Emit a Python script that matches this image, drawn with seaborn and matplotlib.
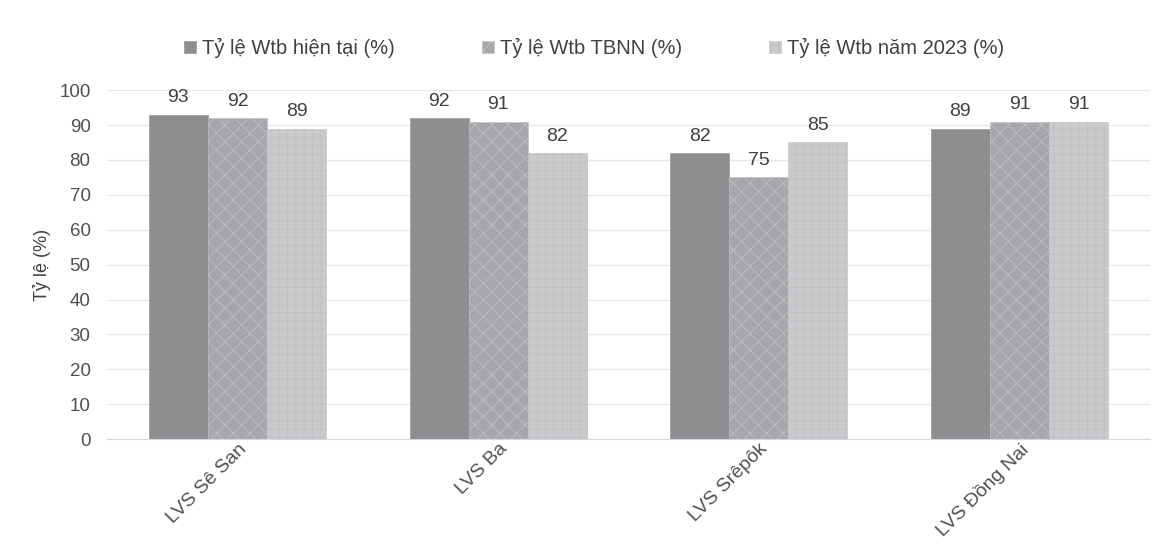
import pandas as pd
import matplotlib.pyplot as plt
import seaborn as sns

basins = ['LVS Sê San', 'LVS Ba', 'LVS Srêpôk', 'LVS Đồng Nai']
series = ['Tỷ lệ Wtb hiện tại (%)', 'Tỷ lệ Wtb TBNN (%)', 'Tỷ lệ Wtb năm 2023 (%)']
current = [93, 92, 82, 89]
avg_years = [92, 91, 75, 91]
year_2023 = [89, 82, 85, 91]

colors = ['#8e8e90', '#a7a7ab', '#cacacd']
hatches = ['', 'xx', '++']

df = pd.DataFrame({
    'Basin': basins * 3,
    'Series': [series[0]] * 4 + [series[1]] * 4 + [series[2]] * 4,
    'Value': current + avg_years + year_2023,
})

sns.set_style("white")
plt.rcParams['font.family'] = ['Liberation Sans', 'DejaVu Sans']
plt.rcParams['hatch.color'] = '#d9d9dc'
plt.rcParams['hatch.linewidth'] = 0.6

fig = plt.figure(figsize=(11.65, 5.53), dpi=100)
ax = fig.add_axes([0.092, 0.206, 0.895, 0.631])

sns.barplot(data=df, x='Basin', y='Value', hue='Series', palette=colors,
            width=0.68, gap=0, saturation=1, ax=ax, legend=False)

for i, cont in enumerate(ax.containers):
    for bar in cont:
        bar.set_hatch(hatches[i])
        bar.set_edgecolor('#c0c0c3' if i else colors[0])
        bar.set_linewidth(0.4)
    ax.bar_label(cont, padding=6, fontsize=14, color='#404040')

ax.set_ylim(0, 100)
ax.set_yticks(range(0, 101, 10))
ax.set_xlim(-0.5, 3.5)
ax.yaxis.grid(True, color='#e4e7ec', linewidth=0.9)
ax.set_axisbelow(True)
for s in ['top', 'right', 'left']:
    ax.spines[s].set_visible(False)
ax.spines['bottom'].set_color('#d4d8de')
ax.tick_params(axis='y', length=0, labelsize=13.5, labelcolor='#505050', pad=12)
ax.tick_params(axis='x', length=0, labelsize=14, labelcolor='#505050', pad=1)
ax.set_xlabel('')
ax.set_ylabel('Tỷ lệ (%)', fontsize=13, color='#404040', labelpad=6)
plt.setp(ax.get_xticklabels(), rotation=45, ha='right', rotation_mode='anchor')

handles = [plt.Rectangle((0, 0), 1, 1, facecolor=colors[i], hatch=hatches[i],
                         edgecolor='#c0c0c3' if i else colors[0], linewidth=0.4)
           for i in range(3)]
fig.legend(handles, series, loc='center', bbox_to_anchor=(0.51, 0.913), ncol=3,
           frameon=False, fontsize=14.5, handlelength=0.6, handleheight=0.6,
           handletextpad=0.3, columnspacing=4.3, labelcolor='#404040')

fig.savefig('out.png', dpi=100)
